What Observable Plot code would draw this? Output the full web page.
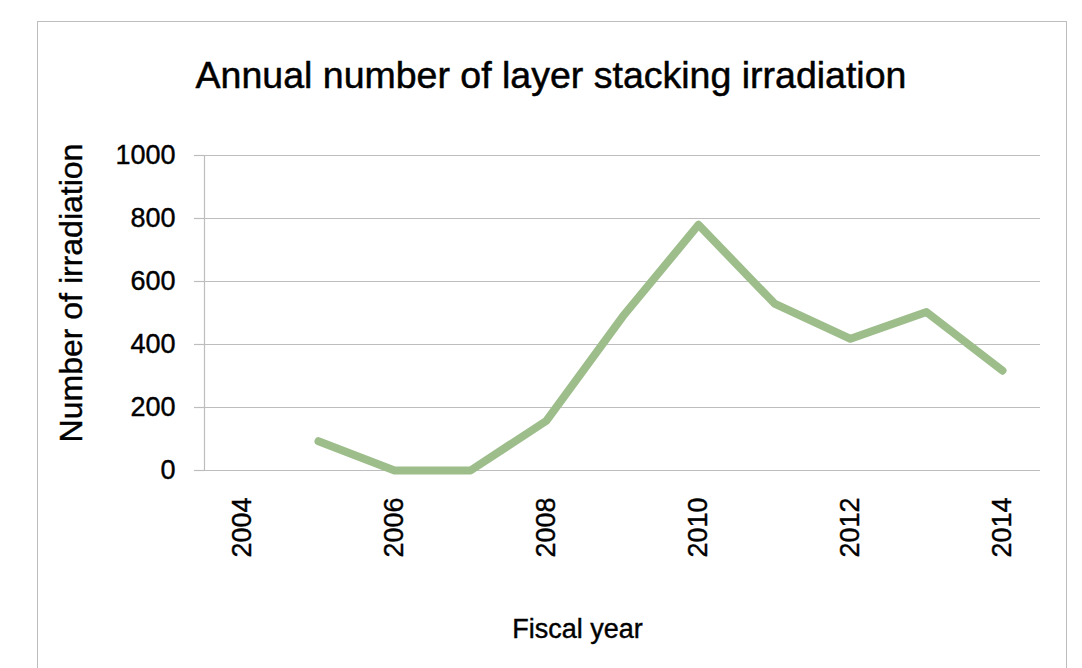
<!DOCTYPE html>
<html><head><meta charset="utf-8">
<script src="https://cdn.jsdelivr.net/npm/d3@7"></script>
<script src="https://cdn.jsdelivr.net/npm/@observablehq/plot@0.6"></script>
<style>
body{margin:0;background:#fff;font-family:"Liberation Sans",Arial,sans-serif;}
#wrap{position:relative;width:1082px;height:668px;overflow:hidden;}
#frame{position:absolute;left:37px;top:21px;width:1028px;height:800px;border:1.5px solid #bdbdbd;}
#title{position:absolute;left:0;width:1102px;top:57px;text-align:center;font-size:37.5px;line-height:37px;color:#000;-webkit-text-stroke:0.5px #000;}
#chart{position:absolute;left:0;top:100px;}
#chart svg text{stroke:#000;stroke-width:0.4px;}
</style></head><body>
<div id="wrap"><div id="frame"></div><div id="title">Annual number of layer stacking irradiation</div><div id="chart"></div></div>
<script>
const years = [2004, 2005, 2006, 2007, 2008, 2009, 2010, 2011, 2012, 2013, 2014];
const counts = [null, 93, 0, 0, 158, 488, 780, 530, 418, 503, 317];
const yTicks = [0, 200, 400, 600, 800, 1000];
const xTickYears = [2004, 2006, 2008, 2010, 2012, 2014];
const yLabel = "Number of irradiation";
const xLabel = "Fiscal year";

const data = years.map((year, i) => ({year, count: counts[i]}));

const chart = Plot.plot({
  width: 1082,
  height: 568,
  marginTop: 55,
  marginBottom: 198,
  marginLeft: 204,
  marginRight: 42,
  style: {fontFamily: '"Liberation Sans", Arial, sans-serif', background: "transparent", color: "#000"},
  x: {type: "point", domain: years, padding: 0.5},
  y: {domain: [0, 1000]},
  marks: [
    Plot.gridY(yTicks, {stroke: "#bdbdbd", strokeOpacity: 1, strokeWidth: 1.2}),
    Plot.ruleY([0], {stroke: "#bdbdbd", strokeWidth: 1.2}),
    Plot.frame({anchor: "left", stroke: "#bdbdbd", strokeWidth: 1.2}),
    Plot.axisY(yTicks, {tickSize: 10, tickPadding: 19, stroke: "#bdbdbd", strokeWidth: 1.2, fill: "#000", fontSize: 27, tickFormat: d => String(d), label: null}),
    Plot.axisX(xTickYears, {tickSize: 0, tickPadding: 27, tickRotate: -90, fill: "#000", fontSize: 27, tickFormat: d => String(d), label: null}),
    Plot.line(data, {x: "year", y: "count", stroke: "#9dbd8b", strokeWidth: 8, strokeLinecap: "round", strokeLinejoin: "round"}),
    Plot.text([yLabel], {frameAnchor: "left", textAnchor: "middle", dx: -133, dy: -20, rotate: -90, fontSize: 32, fill: "#000"}),
    Plot.text([xLabel], {frameAnchor: "bottom", textAnchor: "middle", dx: -45, dy: 167, fontSize: 27, fill: "#000"})
  ]
});
document.getElementById("chart").appendChild(chart);
</script>
</body></html>
